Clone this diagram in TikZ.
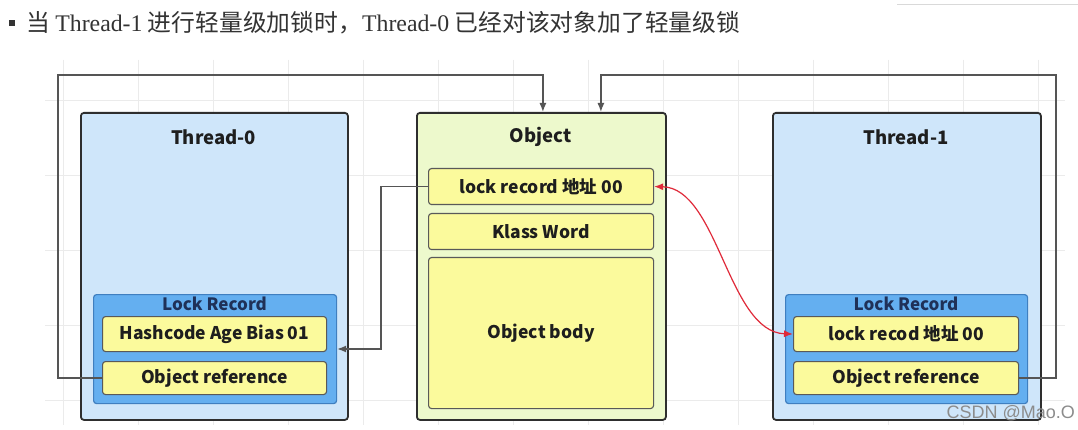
\documentclass[tikz,border=0pt]{standalone}
\usepackage{fontspec}
\setmainfont{Noto Sans CJK SC}
\newfontfamily\cjk{Noto Sans CJK SC}
\newfontfamily\lserif{Liberation Serif}
\newfontfamily\wmfont{Liberation Sans}
\usetikzlibrary{arrows.meta}
\definecolor{threadfill}{HTML}{CFE6FA}
\definecolor{lrfill}{HTML}{64AFF0}
\definecolor{lrdraw}{HTML}{3F7FC0}
\definecolor{yfill}{HTML}{FBFA9C}
\definecolor{objfill}{HTML}{EDF9CC}
\definecolor{navy}{HTML}{1F3158}
\definecolor{txt}{HTML}{1E1E1E}
\definecolor{conncol}{HTML}{555555}
\definecolor{redc}{HTML}{E02A3A}
\begin{document}
\begin{tikzpicture}[x=1pt,y=-1pt,
  container/.style={draw=black!82, line width=1.8pt, rounded corners=3pt, inner sep=0pt, anchor=north west},
  thread/.style={container, fill=threadfill},
  objbox/.style={container, fill=objfill},
  lrbox/.style={draw=lrdraw, line width=1.2pt, fill=lrfill, rounded corners=3pt, inner sep=0pt, anchor=north west},
  ybox/.style={draw=black!65, line width=1.1pt, fill=yfill, rounded corners=3pt, inner sep=0pt, anchor=north west, text=txt, font=\fontsize{17.5}{19}\selectfont\bfseries},
  titletext/.style={text=txt, inner sep=0pt, font=\fontsize{18.5}{20}\selectfont\bfseries},
  lrtitle/.style={text=navy, inner sep=0pt, font=\fontsize{17}{19}\selectfont\bfseries},
  conn/.style={draw=conncol, line width=1.3pt},
  tipd/.style={-{Latex[length=9pt,width=7pt]}},
  redline/.style={draw=redc, line width=1.2pt, {Latex[length=9pt,width=7pt]}-{Latex[length=9pt,width=7pt]}},
  gridline/.style={draw=black!8, line width=0.8pt}
]
\useasboundingbox[fill=white] (0,0) rectangle (1078,430);
% background grid
\foreach \gx in {63,138,...,1040} \draw[gridline] (\gx,60) -- (\gx,425);
\foreach \gy in {100,175,...,420} \draw[gridline] (45,\gy) -- (1065,\gy);
\draw[draw=black!15, line width=1pt] (897,5) -- (1078,5);
% heading
\fill[black!80] (9,20) rectangle (15,26);
\node[anchor=west, inner sep=0pt, text=black!80, font=\fontsize{23.8}{26}\selectfont] (head) at (26,23)
  {{\cjk 当} {\lserif Thread-1} {\cjk 进行轻量级加锁时，}{\lserif Thread-0} {\cjk 已经对该对象加了轻量级锁}};
% Thread-0
\node[thread, minimum width=267pt, minimum height=307pt] (t0) at (80,112) {};
\node[titletext] (t0t) at (213.5,137) {Thread-0};
\node[lrbox, minimum width=243pt, minimum height=109pt] (t0lr) at (93,294) {};
\node[lrtitle] (t0lrt) at (214.5,304) {Lock Record};
\node[ybox, minimum width=224pt, minimum height=35pt] (t0hash) at (102,316) {Hashcode Age Bias 01};
\node[ybox, minimum width=224pt, minimum height=33pt] (t0ref) at (102,361) {Object reference};
% Object
\node[objbox, minimum width=249pt, minimum height=307pt] (obj) at (416,112) {};
\node[titletext] (objt) at (540.5,137) {Object};
\node[ybox, minimum width=225pt, minimum height=36pt] (objlr) at (428,168) {lock record 地址 00};
\node[ybox, minimum width=225pt, minimum height=36pt] (klass) at (428,213) {Klass Word};
\node[ybox, minimum width=225pt, minimum height=151pt] (body) at (428,257) {Object body};
% Thread-1
\node[thread, minimum width=268pt, minimum height=307pt] (t1) at (772,112) {};
\node[titletext] (t1t) at (906,137) {Thread-1};
\node[lrbox, minimum width=242pt, minimum height=109pt] (t1lr) at (785,294) {};
\node[lrtitle] (t1lrt) at (906,304) {Lock Record};
\node[ybox, minimum width=225pt, minimum height=35pt] (t1rec) at (793,316) {lock recod 地址 00};
\node[ybox, minimum width=225pt, minimum height=33pt] (t1ref) at (793,361) {Object reference};
% connectors
\coordinate (c1) at (58,75);
\coordinate (c2) at (1056,75);
\coordinate (c3) at (381,349);
\draw[conn, tipd] (t0ref.west) -| (c1) -| ([xshift=1.5pt]obj.north);
\draw[conn, tipd] (t1ref.east) -| (c2) -| ([xshift=59.5pt]obj.north);
\draw[conn, tipd] (objlr.west) -| (c3) -- (c3 -| t0lr.east);
\draw[redline] (objlr.east) .. controls (718,188) and (728,332) .. (t1rec.west);
% watermark
\node[anchor=east, inner sep=0pt, text=black!45, font=\wmfont\fontsize{18}{20}\selectfont] (wm) at (1075,413) {CSDN @Mao.O};
\end{tikzpicture}
\end{document}
